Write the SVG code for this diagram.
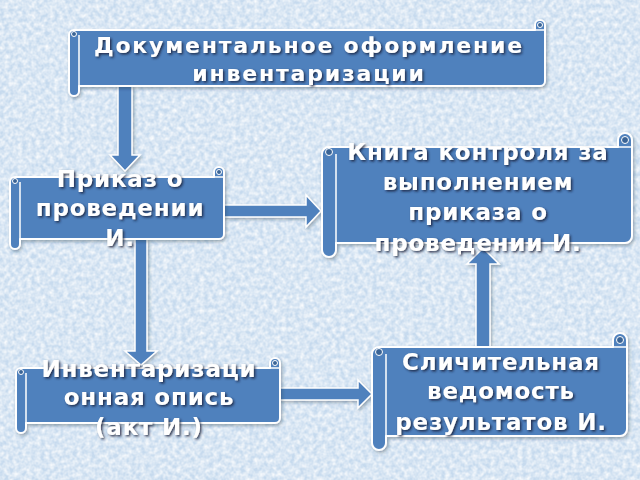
<svg xmlns="http://www.w3.org/2000/svg" width="640" height="480" viewBox="0 0 640 480">
<defs>
<style>
.bg{fill:#c6daee}
.shape{fill:#4f81bd;stroke:#fff;stroke-width:2;stroke-linejoin:round;filter:url(#sh)}
.det{fill:none;stroke:#fff;stroke-width:1.5}
.curl{fill:#3a6496;stroke:#fff;stroke-width:1}
.arrow{fill:#4f81bd;stroke:#fff;stroke-width:1.5;stroke-linejoin:miter;filter:url(#sh)}
text{font-family:"DejaVu Sans","Verdana",sans-serif;font-weight:bold;fill:#fff;text-anchor:middle;font-size:23px;letter-spacing:0.8px;filter:url(#ts)}
.t1{font-size:22px;letter-spacing:1.8px}
</style>
<filter id="tex" x="0" y="0" width="100%" height="100%">
<feTurbulence type="fractalNoise" baseFrequency="0.22" numOctaves="2" seed="5"/>
<feColorMatrix type="matrix" values="0 0 0 0 1  0 0 0 0 1  0 0 0 0 1  0 0 0 1.4 -0.35"/>
</filter>
<filter id="sh" x="-10%" y="-10%" width="120%" height="130%">
<feDropShadow dx="1.5" dy="2" stdDeviation="1.5" flood-color="#203040" flood-opacity="0.35"/>
</filter>
<filter id="ts" x="-10%" y="-20%" width="120%" height="150%">
<feDropShadow dx="1.5" dy="1.5" stdDeviation="0.8" flood-color="#15243a" flood-opacity="0.85"/>
</filter>
</defs>
<rect class="bg" x="0" y="0" width="640" height="480"/>
<rect x="0" y="0" width="640" height="480" filter="url(#tex)" fill="#fff"/>

<g id="connectors">
<polygon class="arrow" points="118,86 132,86 132,155 140,155 125,171 110,155 118,155"/>
<polygon class="arrow" points="224,205 306,205 306,195 321,211 306,227 306,217 224,217"/>
<polygon class="arrow" points="135,239 147,239 147,351 157,351 141,365 125,351 135,351"/>
<polygon class="arrow" points="280,388 358,388 358,380 372,394 358,408 358,400 280,400"/>
<polygon class="arrow" points="476,347 490,347 490,264 499,264 483,248 467,264 476,264"/>
</g>

<g id="node1">
<path class="shape" d="M69,35 A5,5 0 0 1 74,30 L535,30 L535,25 A5,5 0 0 1 540,20 A5,5 0 0 1 545,25 L545,81 A5,5 0 0 1 540,86 L79,86 L79,91 A5,5 0 0 1 74,96 A5,5 0 0 1 69,91 Z"/>
<path class="det" d="M79,35 V91 M535,30 H545"/>
<circle class="curl" cx="74" cy="34" r="2.5"/>
<circle class="curl" cx="540" cy="25" r="2.5"/>
<text class="t1" x="309" y="53">Документальное оформление</text>
<text class="t1" x="309" y="81">инвентаризации</text>
</g>

<g id="node2">
<path class="shape" d="M10,182 A5,5 0 0 1 15,177 L214,177 L214,172 A5,5 0 0 1 219,167 A5,5 0 0 1 224,172 L224,234 A5,5 0 0 1 219,239 L20,239 L20,244 A5,5 0 0 1 15,249 A5,5 0 0 1 10,244 Z"/>
<path class="det" d="M20,182 V244 M214,177 H224"/>
<circle class="curl" cx="15" cy="181" r="2.5"/>
<circle class="curl" cx="219" cy="172" r="2.5"/>
<text x="120" y="187">Приказ о</text>
<text x="120" y="216">проведении</text>
<text x="120" y="246">И.</text>
</g>

<g id="node3">
<path class="shape" d="M322,154 A7,7 0 0 1 329,147 L618,147 L618,140 A7,7 0 0 1 625,133 A7,7 0 0 1 632,140 L632,236 A7,7 0 0 1 625,243 L336,243 L336,250 A7,7 0 0 1 329,257 A7,7 0 0 1 322,250 Z"/>
<path class="det" d="M336,154 V250 M618,147 H632"/>
<circle class="curl" cx="329" cy="152" r="3.5"/>
<circle class="curl" cx="625" cy="140" r="3.5"/>
<text x="478" y="160">Книга контроля за</text>
<text x="478" y="190">выполнением</text>
<text x="478" y="220">приказа о</text>
<text x="478" y="251">проведении И.</text>
</g>

<g id="node4">
<path class="shape" d="M16,373 A5,5 0 0 1 21,368 L270,368 L270,363 A5,5 0 0 1 275,358 A5,5 0 0 1 280,363 L280,418 A5,5 0 0 1 275,423 L26,423 L26,428 A5,5 0 0 1 21,433 A5,5 0 0 1 16,428 Z"/>
<path class="det" d="M26,373 V428 M270,368 H280"/>
<circle class="curl" cx="21" cy="372" r="2.5"/>
<circle class="curl" cx="275" cy="363" r="2.5"/>
<text x="149" y="377">Инвентаризаци</text>
<text x="149" y="405">онная опись</text>
<text x="149" y="435">(акт И.)</text>
</g>

<g id="node5">
<path class="shape" d="M372,354 A7,7 0 0 1 379,347 L613,347 L613,340 A7,7 0 0 1 620,333 A7,7 0 0 1 627,340 L627,429 A7,7 0 0 1 620,436 L386,436 L386,443 A7,7 0 0 1 379,450 A7,7 0 0 1 372,443 Z"/>
<path class="det" d="M386,354 V443 M613,347 H627"/>
<circle class="curl" cx="379" cy="352" r="3.5"/>
<circle class="curl" cx="620" cy="340" r="3.5"/>
<text x="501" y="370">Сличительная</text>
<text x="501" y="399">ведомость</text>
<text x="501" y="430">результатов И.</text>
</g>
</svg>
